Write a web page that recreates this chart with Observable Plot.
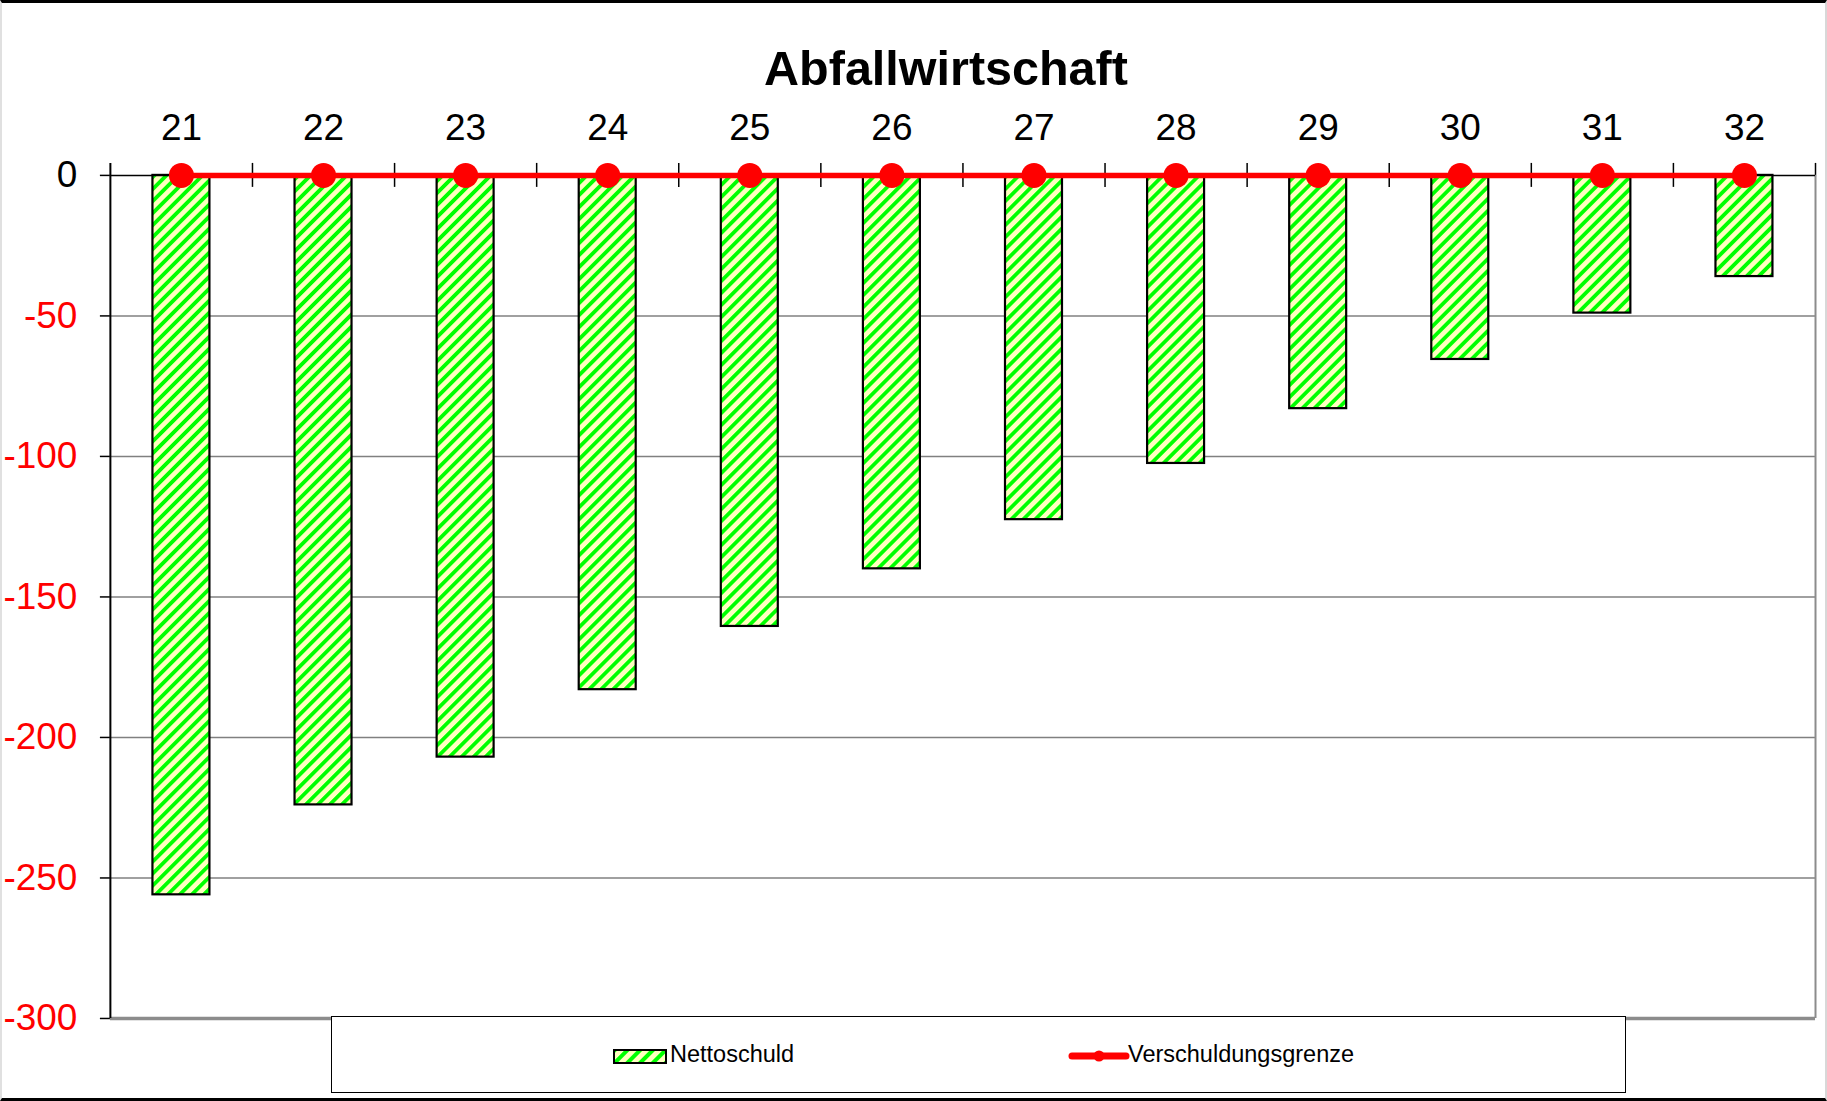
<!DOCTYPE html>
<html>
<head>
<meta charset="utf-8">
<script src="https://cdn.jsdelivr.net/npm/d3@7"></script>
<script src="https://cdn.jsdelivr.net/npm/@observablehq/plot@0.6"></script>
<style>
  html, body { margin: 0; padding: 0; background: #fff; }
  #wrap { position: relative; width: 1827px; height: 1101px; box-sizing: border-box;
          border-top: 3px solid #000; border-bottom: 3px solid #000;
          border-left: 2px solid #e0e0e0; border-right: 2px solid #d8d8d8;
          font-family: "Liberation Sans", Arial, sans-serif; overflow: hidden; }
  #title { position: absolute; left: 944px; top: 41px; transform: translateX(-50%);
           font-size: 48.5px; font-weight: bold; line-height: 1; white-space: nowrap; color: #000; }
  #chart { position: absolute; left: -2px; top: 84px; }
  #legend { position: absolute; left: 329px; top: 1013px; width: 1295px; height: 77px;
            box-sizing: border-box; border: 1.5px solid #000; background: #fff; }
  .lg-item { position: absolute; font-size: 23.5px; line-height: 1; color: #000; white-space: nowrap; }
</style>
</head>
<body>
<div id="wrap">
  <div id="title">Abfallwirtschaft</div>
  <div id="chart"></div>
  <div id="legend"></div>
</div>
<script>
// ---- data ----
const chartTitle = "Abfallwirtschaft";
const categories = [21, 22, 23, 24, 25, 26, 27, 28, 29, 30, 31, 32];
const nettoschuld = [-256, -224, -207, -183, -160.5, -140, -122.5, -102.5, -83, -65.5, -49, -36];
const verschuldungsgrenze = [0, 0, 0, 0, 0, 0, 0, 0, 0, 0, 0, 0];
const yTicks = [0, -50, -100, -150, -200, -250, -300];
const seriesNames = ["Nettoschuld", "Verschuldungsgrenze"];

const data = categories.map((c, i) => ({cat: c, value: nettoschuld[i], limit: verschuldungsgrenze[i]}));
const boundaries = categories.slice(1).map(c => c - 0.5);
const xLeft = categories[0] - 0.5;
const xRight = categories[categories.length - 1] + 0.5;

document.getElementById("title").textContent = chartTitle;

const fmt = d => String(d);

const svg = Plot.plot({
  width: 1827,
  height: 950,
  marginLeft: 110,
  marginRight: 10,
  marginTop: 88,
  marginBottom: 18,
  style: {fontFamily: "'Liberation Sans', Arial, sans-serif", background: "transparent", overflow: "visible"},
  x: {type: "linear", domain: [xLeft, xRight]},
  y: {domain: [yTicks[yTicks.length - 1], yTicks[0]]},
  marks: [
    Plot.ruleY(yTicks.filter(v => v < 0 && v > yTicks[yTicks.length - 1]), {stroke: "#808080", strokeWidth: 1.5}),
    Plot.ruleY([yTicks[yTicks.length - 1]], {stroke: "#8c8c8c", strokeWidth: 3.5}),
    Plot.ruleX([xRight], {stroke: "#8c8c8c", strokeWidth: 2}),
    Plot.rectY(data, {
      x1: d => d.cat - 0.5, x2: d => d.cat + 0.5, y1: 0, y2: "value",
      insetLeft: 42.6, insetRight: 42.6,
      fill: "url(#stripes)", stroke: "#000", strokeWidth: 2.2
    }),
    Plot.ruleY([0], {stroke: "#000", strokeWidth: 1.5}),
    Plot.ruleX(boundaries, {y1: 0, y2: 0, insetTop: -12, insetBottom: -12, stroke: "#000", strokeWidth: 1.5}),
    Plot.ruleX([xRight], {y1: 0, y2: 0, insetTop: -12, insetBottom: 0, stroke: "#000", strokeWidth: 1.5}),
    Plot.ruleX([xLeft], {insetTop: -12, stroke: "#000", strokeWidth: 2}),
    Plot.lineY(data, {x: "cat", y: "limit", stroke: "#ff0000", strokeWidth: 5.5}),
    Plot.dot(data, {x: "cat", y: "limit", r: 12.5, fill: "#ff0000", stroke: "none"}),
    Plot.axisX(categories, {anchor: "top", label: null, tickSize: 0, tickPadding: 35, fontSize: 37, tickFormat: fmt, fill: "#000"}),
    Plot.axisY(yTicks.filter(v => v === 0), {label: null, tickSize: 10, tickPadding: 23, fontSize: 37, tickFormat: fmt, fill: "#000", stroke: "#000", strokeWidth: 1.5}),
    Plot.axisY(yTicks.filter(v => v !== 0), {label: null, tickSize: 10, tickPadding: 23, fontSize: 37, tickFormat: fmt, fill: "#ff0000", stroke: "#000", strokeWidth: 1.5})
  ]
});

function addStripes(root, id, size, stripe) {
  const defs = d3.select(root).insert("defs", ":first-child");
  const p = defs.append("pattern")
    .attr("id", id)
    .attr("patternUnits", "userSpaceOnUse")
    .attr("width", size).attr("height", size)
    .attr("patternTransform", "rotate(45)");
  p.append("rect").attr("width", size).attr("height", size).attr("fill", "#ffffc0");
  p.append("rect").attr("width", stripe).attr("height", size).attr("fill", "#00ff00");
}
addStripes(svg, "stripes", 8.5, 3.8);
document.getElementById("chart").appendChild(svg);

// ---- legend ----
const legend = document.getElementById("legend");
// Nettoschuld
const sw = d3.create("svg").attr("width", 54).attr("height", 15)
  .style("position", "absolute").style("left", "281px").style("top", "32px");
addStripes(sw.node(), "stripesLegend", 9, 4);
sw.append("rect").attr("x", 1).attr("y", 1).attr("width", 52).attr("height", 13)
  .attr("fill", "url(#stripesLegend)").attr("stroke", "#000").attr("stroke-width", 2);
legend.appendChild(sw.node());
const t1 = document.createElement("div");
t1.className = "lg-item"; t1.textContent = seriesNames[0];
t1.style.left = "338px"; t1.style.top = "26px";
legend.appendChild(t1);
// Verschuldungsgrenze
const ln = d3.create("svg").attr("width", 62).attr("height", 16)
  .style("position", "absolute").style("left", "736px").style("top", "31px");
ln.append("line").attr("x1", 4).attr("x2", 58).attr("y1", 8).attr("y2", 8)
  .attr("stroke", "#ff0000").attr("stroke-width", 7).attr("stroke-linecap", "round");
ln.append("circle").attr("cx", 31).attr("cy", 8).attr("r", 5.5).attr("fill", "#ff0000");
legend.appendChild(ln.node());
const t2 = document.createElement("div");
t2.className = "lg-item"; t2.textContent = seriesNames[1];
t2.style.left = "796px"; t2.style.top = "26px";
legend.appendChild(t2);
</script>
</body>
</html>
